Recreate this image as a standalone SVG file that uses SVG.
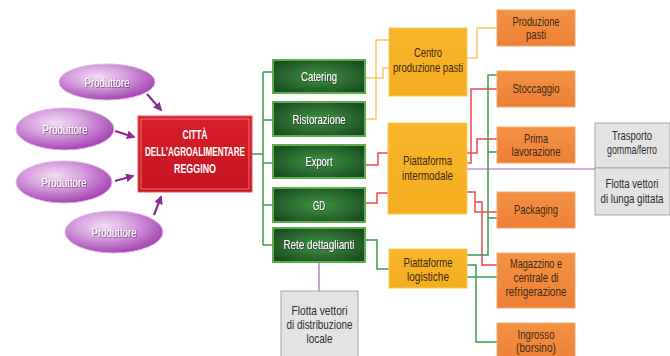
<svg xmlns="http://www.w3.org/2000/svg" width="670" height="356" viewBox="0 0 670 356">
<defs>
<radialGradient id="gEll" cx="0.4" cy="0.35" r="0.65">
<stop offset="0" stop-color="#f4dcf6"/>
<stop offset="0.45" stop-color="#d7a0df"/>
<stop offset="1" stop-color="#a546b3"/>
</radialGradient>
<radialGradient id="gGreen" cx="0.5" cy="0.5" r="0.6">
<stop offset="0" stop-color="#3f9440"/>
<stop offset="1" stop-color="#1b4e22"/>
</radialGradient>
<linearGradient id="gRed" x1="0" y1="0" x2="0" y2="1">
<stop offset="0" stop-color="#d91f2c"/>
<stop offset="1" stop-color="#c4141f"/>
</linearGradient>
<linearGradient id="gYel" x1="0" y1="0" x2="0" y2="1">
<stop offset="0" stop-color="#f7b62a"/>
<stop offset="1" stop-color="#f5ad1f"/>
</linearGradient>
<linearGradient id="gOr" x1="0" y1="0" x2="0" y2="1">
<stop offset="0" stop-color="#f39244"/>
<stop offset="1" stop-color="#ee7f35"/>
</linearGradient>
<filter id="sh" x="-10%" y="-30%" width="120%" height="160%">
<feDropShadow dx="0.6" dy="0.6" stdDeviation="0.6" flood-color="#3a1040" flood-opacity="0.8"/>
</filter>
<marker id="arr" viewBox="0 0 10 10" refX="8" refY="5" markerWidth="4" markerHeight="4" orient="auto">
<path d="M0,0 L10,5 L0,10 z" fill="#8e2a94"/>
</marker>
</defs>
<style>
text{font-family:"Liberation Sans",Arial,sans-serif;font-size:13px;text-anchor:middle}
.ell{fill:url(#gEll);stroke:#e2b8e8;stroke-width:1}
.ell-t{fill:#ffffff;font-size:13.5px;filter:url(#sh)}
.grn{fill:url(#gGreen);stroke:#5cae4c;stroke-width:2}
.grn-t{fill:#ffffff;font-size:13.5px;filter:url(#sh)}
.yel{fill:url(#gYel);stroke:#f9ca5e;stroke-width:1}
.org{fill:url(#gOr);stroke:#f6a970;stroke-width:1}
.gry{fill:#e3e3e3;stroke:#a5a5a5;stroke-width:1}
.dk{fill:#3e2a16}
.sm{font-size:12.5px}
.gt{fill:#2e2e2e}
.lg{fill:none;stroke:#3a9c4e;stroke-width:1.5}
.lr{fill:none;stroke:#ec4a4c;stroke-width:1.5}
.lo{fill:none;stroke:#fcc36c;stroke-width:1.5}
.lp{fill:none;stroke:#a866b6;stroke-width:1.2}
.arw{fill:none;stroke:#8e2a94;stroke-width:2.2;marker-end:url(#arr)}
</style>
<rect width="670" height="356" fill="#ffffff"/>

<g id="connectors">
<path class="lg" d="M252,154 H263 M263,72 V245 M263,72 H273 M263,120 H273 M263,163 H273 M263,205 H273 M263,245 H273"/>
<path class="lo" d="M365,78 H383 V68 H389"/>
<path class="lo" d="M365,119 H376 V40 H389"/>
<path class="lo" d="M467,58 H477 V28 H497"/>
<path class="lr" d="M365,165 H378 V153 H388"/>
<path class="lr" d="M365,203 H377 V193 H388"/>
<path class="lr" d="M467,163 H471 V89 H497"/>
<path class="lr" d="M467,153 H477 V139 H497"/>
<path class="lr" d="M467,192 H475 V212 H497"/>
<path class="lr" d="M475,202 H482 V265 H497"/>
<path class="lg" d="M467,255 H488 V75 H497 M488,152 H497 M488,218 H497"/>
<path class="lg" d="M467,277 H497"/>
<path class="lg" d="M467,265 H476 V342 H497"/>
<path class="lg" d="M365,240 H377 V269 H389"/>
<path class="lp" d="M319,262 V291"/>
<path class="lp" d="M467,169 H595"/>
<path class="arw" d="M147,94 L161,110"/>
<path class="arw" d="M115,131 L134,137"/>
<path class="arw" d="M115,181 L133,176"/>
<path class="arw" d="M154,215 L161,197"/>
</g>

<g id="prod1"><ellipse class="ell" cx="107" cy="82" rx="48" ry="18"/><text class="ell-t" x="107" y="87" textLength="45" lengthAdjust="spacingAndGlyphs">Produttore</text></g>
<g id="prod2"><ellipse class="ell" cx="65" cy="129" rx="49" ry="21"/><text class="ell-t" x="65" y="134" textLength="45" lengthAdjust="spacingAndGlyphs">Produttore</text></g>
<g id="prod3"><ellipse class="ell" cx="64" cy="182" rx="48" ry="21"/><text class="ell-t" x="64" y="187" textLength="45" lengthAdjust="spacingAndGlyphs">Produttore</text></g>
<g id="prod4"><ellipse class="ell" cx="114" cy="232" rx="49" ry="21"/><text class="ell-t" x="114" y="237" textLength="45" lengthAdjust="spacingAndGlyphs">Produttore</text></g>

<g id="citta">
<rect x="138" y="116" width="114" height="76" fill="url(#gRed)" stroke="#e85a5a" stroke-width="1"/>
<rect x="141" y="119" width="108" height="70" fill="none" stroke="#f08a8a" stroke-width="0.8"/>
<text x="195" y="139" fill="#ffffff" font-weight="bold" font-size="12.5" textLength="25" lengthAdjust="spacingAndGlyphs">CITTÀ</text>
<text x="195" y="156" fill="#ffffff" font-weight="bold" font-size="12.5" textLength="100" lengthAdjust="spacingAndGlyphs">DELL’AGROALIMENTARE</text>
<text x="195" y="173" fill="#ffffff" font-weight="bold" font-size="12.5" textLength="42" lengthAdjust="spacingAndGlyphs">REGGINO</text>
</g>

<g id="catering"><rect class="grn" x="273" y="60" width="92" height="33"/><text class="grn-t" x="319" y="81" textLength="36" lengthAdjust="spacingAndGlyphs">Catering</text></g>
<g id="ristorazione"><rect class="grn" x="273" y="102" width="92" height="34"/><text class="grn-t" x="319" y="124" textLength="53" lengthAdjust="spacingAndGlyphs">Ristorazione</text></g>
<g id="export"><rect class="grn" x="273" y="145" width="92" height="33"/><text class="grn-t" x="319" y="166" textLength="27" lengthAdjust="spacingAndGlyphs">Export</text></g>
<g id="gd"><rect class="grn" x="273" y="188" width="92" height="34"/><text class="grn-t" x="319" y="210" textLength="12" lengthAdjust="spacingAndGlyphs">GD</text></g>
<g id="rete"><rect class="grn" x="273" y="228" width="92" height="34"/><text class="grn-t" x="319" y="249" textLength="71" lengthAdjust="spacingAndGlyphs">Rete dettaglianti</text></g>

<g id="centro"><rect class="yel" x="389" y="28" width="78" height="68"/>
<text class="dk" x="428" y="57" textLength="28" lengthAdjust="spacingAndGlyphs">Centro</text>
<text class="dk" x="428" y="72" textLength="70" lengthAdjust="spacingAndGlyphs">produzione pasti</text></g>
<g id="intermodale"><rect class="yel" x="388" y="123" width="79" height="91"/>
<text class="dk" x="427.5" y="165" textLength="49" lengthAdjust="spacingAndGlyphs">Piattaforma</text>
<text class="dk" x="427.5" y="180" textLength="51" lengthAdjust="spacingAndGlyphs">intermodale</text></g>
<g id="logistiche"><rect class="yel" x="389" y="249" width="78" height="39"/>
<text class="dk" x="428" y="267" textLength="49" lengthAdjust="spacingAndGlyphs">Piattaforme</text>
<text class="dk" x="428" y="281" textLength="42" lengthAdjust="spacingAndGlyphs">logistiche</text></g>

<g id="produzione"><rect class="org" x="497" y="10" width="78" height="36"/>
<text class="dk sm" x="536" y="26" textLength="47" lengthAdjust="spacingAndGlyphs">Produzione</text>
<text class="dk sm" x="536" y="39" textLength="20" lengthAdjust="spacingAndGlyphs">pasti</text></g>
<g id="stoccaggio"><rect class="org" x="497" y="71" width="78" height="36"/>
<text class="dk" x="536" y="93" textLength="47" lengthAdjust="spacingAndGlyphs">Stoccaggio</text></g>
<g id="prima"><rect class="org" x="497" y="127" width="78" height="36"/>
<text class="dk sm" x="536" y="143" textLength="24" lengthAdjust="spacingAndGlyphs">Prima</text>
<text class="dk sm" x="536" y="156" textLength="49" lengthAdjust="spacingAndGlyphs">lavorazione</text></g>
<g id="packaging"><rect class="org" x="497" y="192" width="78" height="36"/>
<text class="dk" x="536" y="214" textLength="44" lengthAdjust="spacingAndGlyphs">Packaging</text></g>
<g id="magazzino"><rect class="org" x="497" y="253" width="78" height="55"/>
<text class="dk sm" x="536" y="268" textLength="52" lengthAdjust="spacingAndGlyphs">Magazzino e</text>
<text class="dk sm" x="536" y="282" textLength="45" lengthAdjust="spacingAndGlyphs">centrale di</text>
<text class="dk sm" x="536" y="296" textLength="61" lengthAdjust="spacingAndGlyphs">refrigerazione</text></g>
<g id="ingrosso"><rect class="org" x="497" y="323" width="78" height="40"/>
<text class="dk sm" x="536" y="339" textLength="37" lengthAdjust="spacingAndGlyphs">Ingrosso</text>
<text class="dk sm" x="536" y="352" textLength="40" lengthAdjust="spacingAndGlyphs">(borsino)</text></g>

<g id="trasporto"><rect class="gry" x="595" y="123" width="75" height="45"/>
<text class="gt" x="632" y="140" textLength="40" lengthAdjust="spacingAndGlyphs">Trasporto</text>
<text class="gt" x="632" y="154" textLength="50" lengthAdjust="spacingAndGlyphs">gomma/ferro</text></g>
<g id="flotta-lunga"><rect class="gry" x="595" y="168" width="75" height="47"/>
<text class="gt" x="632" y="188" textLength="53" lengthAdjust="spacingAndGlyphs">Flotta vettori</text>
<text class="gt" x="632" y="203" textLength="63" lengthAdjust="spacingAndGlyphs">di lunga gittata</text></g>
<g id="flotta-locale"><rect class="gry" x="281" y="291" width="77" height="70"/>
<text class="gt" x="319.5" y="315" textLength="56" lengthAdjust="spacingAndGlyphs">Flotta vettori</text>
<text class="gt" x="319.5" y="329" textLength="66" lengthAdjust="spacingAndGlyphs">di distribuzione</text>
<text class="gt" x="319.5" y="343" textLength="26" lengthAdjust="spacingAndGlyphs">locale</text></g>
</svg>
